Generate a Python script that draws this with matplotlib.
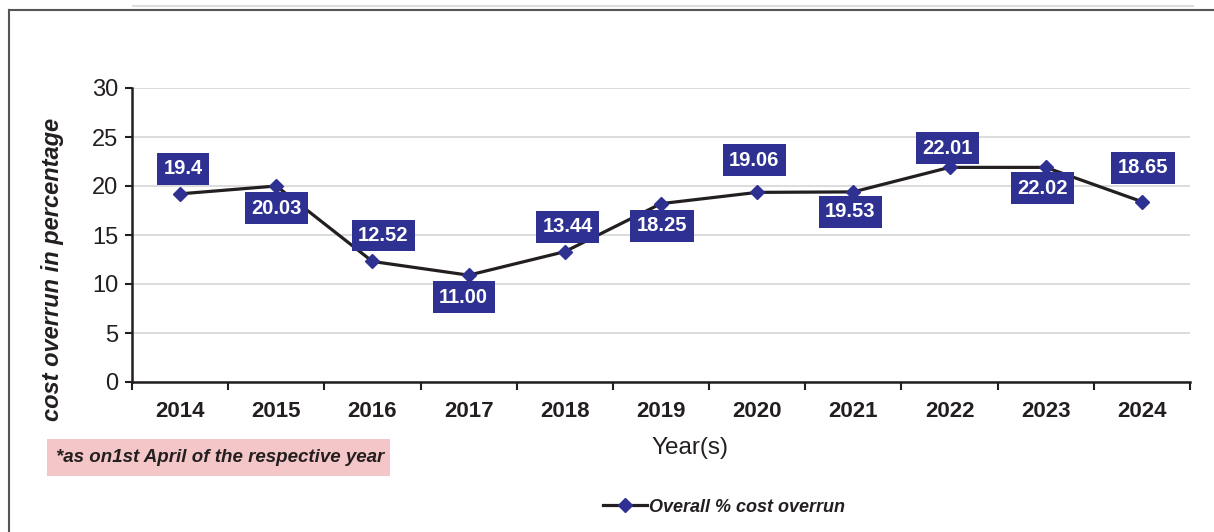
import matplotlib.pyplot as plt
from matplotlib.patches import Rectangle
from matplotlib.lines import Line2D
import numpy as np

# Chart data
years = ["2014", "2015", "2016", "2017", "2018", "2019",
         "2020", "2021", "2022", "2023", "2024"]
overrun = [19.2, 20.0, 12.3, 10.9, 13.3, 18.2, 19.35, 19.4, 21.9, 21.9, 18.4]
labels = ["19.4", "20.03", "12.52", "11.00", "13.44", "18.25",
          "19.06", "19.53", "22.01", "22.02", "18.65"]
yticks = [0, 5, 10, 15, 20, 25, 30]

# label box offsets from the marker, in pixels (dx, dy)
label_offsets = [(3, 25), (0, -22), (11, 26), (-5, -22), (3, 25), (1, -22),
                 (-3, 32), (-3, -20), (-2, 19), (-3, -21), (1, 34)]

navy = "#2E3192"
ink = "#231F20"
font = ["Liberation Sans", "DejaVu Sans"]

W, H = 1214, 532
fig = plt.figure(figsize=(W / 100, H / 100), dpi=100)

# axes placed in pixel terms
left, right, top, bottom = 132, 1190, 88, 382
ax = fig.add_axes([left / W, 1 - bottom / H, (right - left) / W, (bottom - top) / H])

x = np.arange(len(years))
ax.plot(x, overrun, color=ink, lw=2.3, zorder=3)
ax.plot(x, overrun, ls="none", marker="D", ms=7.5, color=navy, zorder=4)

for i, (lab, off) in enumerate(zip(labels, label_offsets)):
    ax.annotate(lab, (x[i], overrun[i]), xytext=off, textcoords="offset pixels",
                ha="center", va="center", color="white", fontsize=14.5,
                fontweight="bold", family=font, zorder=5,
                bbox=dict(boxstyle="square,pad=0.32", fc=navy, ec="none"))

ax.set_xlim(-0.5, len(years) - 0.5)
ax.set_ylim(0, 30)
ax.set_yticks(yticks)
ax.set_xticks(x)
ax.set_xticklabels(years, fontsize=16, fontweight="bold", family=font, color=ink)
ax.set_xticks(np.arange(-0.5, len(years)), minor=True)
ax.tick_params(axis="x", which="major", length=0, pad=14)
ax.tick_params(axis="x", which="minor", length=6, width=1.5, direction="out", color=ink)
ax.tick_params(axis="y", length=5, width=1.5, color=ink, pad=5, labelsize=17, labelcolor=ink)
for t in ax.get_yticklabels():
    t.set_family(font)

ax.grid(axis="y", color="#D9D9D9", lw=1.3)
ax.set_axisbelow(True)
for s in ["top", "right"]:
    ax.spines[s].set_visible(False)
for s in ["left", "bottom"]:
    ax.spines[s].set_color(ink)
    ax.spines[s].set_linewidth(1.8)

ax.set_xlabel("Year(s)", fontsize=17.5, family=font, color=ink)
ax.xaxis.set_label_coords((690 - left) / (right - left), -(448 - bottom) / (bottom - top))
ax.xaxis.label.set_va("center")
fig.text(53 / W, 1 - 269 / H, "cost overrun in percentage", rotation=90,
         ha="center", va="center", fontsize=17, fontweight="bold",
         style="italic", family=font, color=ink)

# footnote box
fig.patches.append(Rectangle((47 / W, 1 - 476 / H), 343 / W, 37 / H,
                             transform=fig.transFigure, fc="#F4C6C8", ec="none"))
fig.text(56 / W, 1 - 458 / H, "*as on1st April of the respective year",
         ha="left", va="center", fontsize=13.5, fontweight="bold", style="italic",
         family=font, color=ink)

# legend
handle = Line2D([], [], color=ink, lw=2.3, marker="D", ms=7.5,
                markerfacecolor=navy, markeredgecolor=navy)
fig.legend([handle], ["Overall % cost overrun"], loc="center",
           bbox_to_anchor=(724 / W, 1 - 507 / H), frameon=False,
           prop=dict(family=font, size=13, weight="bold", style="italic"),
           handlelength=2.4, handletextpad=0.1, labelcolor=ink)

# frame lines
fig.add_artist(Line2D([9 / W, 9 / W], [0, 1 - 10 / H], color="#555555", lw=1.5))
fig.add_artist(Line2D([9 / W, 1], [1 - 10 / H, 1 - 10 / H], color="#555555", lw=1.5))
fig.add_artist(Line2D([133 / W, 1193 / W], [1 - 6 / H, 1 - 6 / H], color="#DDDDDD", lw=1.5))

fig.savefig("out.png", dpi=100)
